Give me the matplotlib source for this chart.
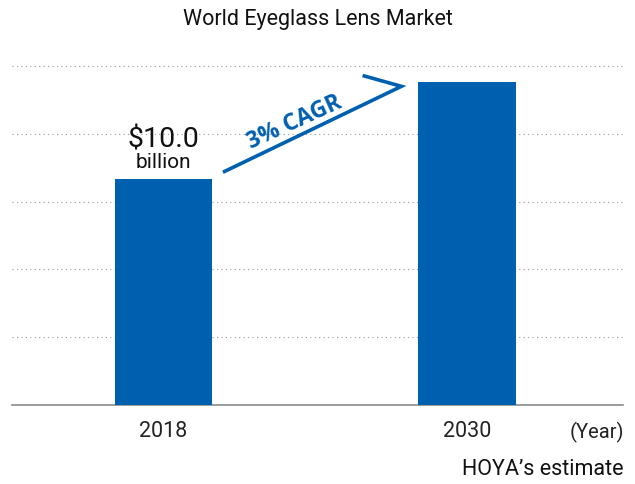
import numpy as np
import matplotlib.pyplot as plt

plt.rcParams['font.family'] = ['Roboto', 'DejaVu Sans']

# market size, billion USD
years = ['2018', '2030']
market = [10.0, 14.3]
grid_levels = [3, 6, 9, 12, 15]

blue = '#0060b0'

fig = plt.figure(figsize=(6.35, 4.85), dpi=100)
ax = fig.add_axes([12 / 635, 79 / 485, 611 / 635, 339 / 485])

x = np.arange(len(years))
ax.bar(x, market, width=0.32, color=blue, zorder=3)

ax.set_xlim(-0.499, 1.514)
ax.set_ylim(0, 15)
for level in grid_levels:
    ax.axhline(level, linestyle=(0, (1, 3)), color='#9a9a9a', linewidth=0.8, clip_on=False)
ax.set_yticks([])

ax.set_xticks(x)
ax.set_xticklabels(years, fontsize=15.5, color='#222222')
ax.tick_params(axis='x', length=0, pad=11)

for side in ['top', 'right', 'left']:
    ax.spines[side].set_visible(False)
ax.spines['bottom'].set_color('#8a8a8a')
ax.spines['bottom'].set_linewidth(1.2)

# value label above the 2018 bar
ax.text(x[0], market[0] + 1.45, f'${market[0]:.1f}', ha='center', va='baseline',
        fontsize=20.5, color='#111111')
ax.text(x[0], market[0] + 0.53, 'billion', ha='center', va='baseline',
        fontsize=15, color='#111111')

# growth arrow between the bars
x0, y0 = x[0] + 0.196, market[0] + 0.3
x1, y1 = x[1] - 0.216, market[1] - 0.2
ax.plot([x0, x1, x1 - 0.128], [y0, y1, y1 + 0.48], color=blue, linewidth=2.6,
        solid_capstyle='butt', solid_joinstyle='miter', clip_on=False, zorder=4)
ax.text(0.432, 12.55, '3% CAGR', rotation=24.5, ha='center', va='center',
        fontsize=16.5, fontweight='bold', color=blue, family='Open Sans')

fig.text(0.5, 1 - 20 / 485, 'World Eyeglass Lens Market', ha='center', va='center',
         fontsize=15.5, color='#111111')
fig.text(597 / 635, 1 - 432 / 485, '(Year)', ha='center', va='center',
         fontsize=14.5, color='#222222')
fig.text(623 / 635, 1 - 470 / 485, 'HOYA\u2019s estimate', ha='right', va='center',
         fontsize=15.5, color='#111111')

fig.savefig('out.png', dpi=100)
